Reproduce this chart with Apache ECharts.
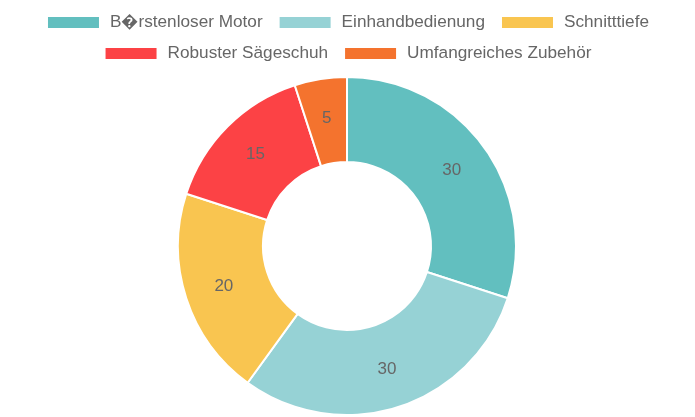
<!DOCTYPE html>
<html>
<head>
<meta charset="utf-8">
<script src="https://cdn.jsdelivr.net/npm/echarts@6/dist/echarts.min.js"></script>
<style>
  html, body { margin: 0; padding: 0; background: #fff; }
  #chart { width: 695px; height: 417px; }
</style>
</head>
<body>
<div id="chart"></div>
<script>
// Kategorien und Werte
const categories = ['B\uFFFDrstenloser Motor', 'Einhandbedienung', 'Schnitttiefe', 'Robuster Sägeschuh', 'Umfangreiches Zubehör']
const values = [30, 30, 20, 15, 5]
const colors = ['#62bfbf', '#96d2d5', '#f9c550', '#fc4245', '#f4732e']

const chart = echarts.init(document.getElementById('chart'))

// Legende in zwei zentrierten Zeilen
const legendBase = {
  left: 'center',
  padding: [5, 5, 5, 13],
  icon: 'rect',
  itemWidth: 53,
  itemHeight: 13,
  itemGap: 15,
  textStyle: { fontSize: 17.2, color: '#666', padding: [0, 0, 0, 5] }
}

const option = {
  color: colors,
  textStyle: { fontFamily: 'Liberation Sans, Arial, sans-serif' },
  legend: [
    Object.assign({}, legendBase, { top: 9, data: categories.slice(0, 3) }),
    Object.assign({}, legendBase, { top: 40, data: categories.slice(3) })
  ],
  series: [{
    type: 'pie',
    center: [347, 246],
    radius: [84, 169],
    startAngle: 90,
    clockwise: true,
    itemStyle: { borderColor: '#fff', borderWidth: 2 },
    label: {
      show: true,
      position: 'inside',
      formatter: '{c}',
      fontSize: 17,
      color: '#666'
    },
    labelLine: { show: false },
    emphasis: { disabled: true },
    data: categories.map((name, i) => ({ name: name, value: values[i] }))
  }]
}

chart.setOption(option)
</script>
</body>
</html>
